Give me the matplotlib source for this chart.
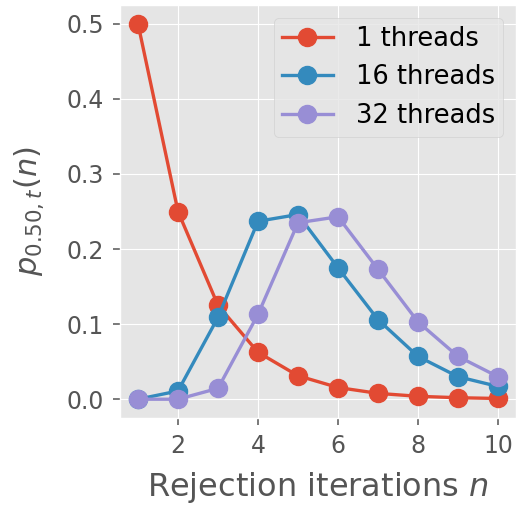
import matplotlib
matplotlib.use("Agg")
import matplotlib.pyplot as plt

plt.style.use("ggplot")

n = [1, 2, 3, 4, 5, 6, 7, 8, 9, 10]
p_1 = [0.5, 0.25, 0.125, 0.0625, 0.03125, 0.0156, 0.0078, 0.0039, 0.002, 0.001]
p_16 = [0.0, 0.011, 0.109, 0.237, 0.246, 0.175, 0.106, 0.057, 0.030, 0.017]
p_32 = [0.0, 0.0, 0.0145, 0.113, 0.235, 0.243, 0.173, 0.103, 0.057, 0.030]
labels = ["1 threads", "16 threads", "32 threads"]

fig = plt.figure(figsize=(5.16, 5.08), dpi=100)
ax = fig.add_axes([120 / 516, 90 / 508, 396 / 516, 413 / 508])

for vals, lab in zip([p_1, p_16, p_32], labels):
    ax.plot(n, vals, marker="o", markersize=13, linewidth=2.4, label=lab)

ax.tick_params(labelsize=17, length=5, width=1.1, pad=6.5)
ax.set_xlabel("Rejection iterations $n$", fontsize=23, labelpad=9)
ax.set_ylabel(r"$p_{0.50,t}(n)$", fontsize=22, labelpad=15)
ax.legend(loc="upper right", fontsize=18.5, borderpad=0.3, handletextpad=0.9)

fig.savefig("out.png", dpi=100)
